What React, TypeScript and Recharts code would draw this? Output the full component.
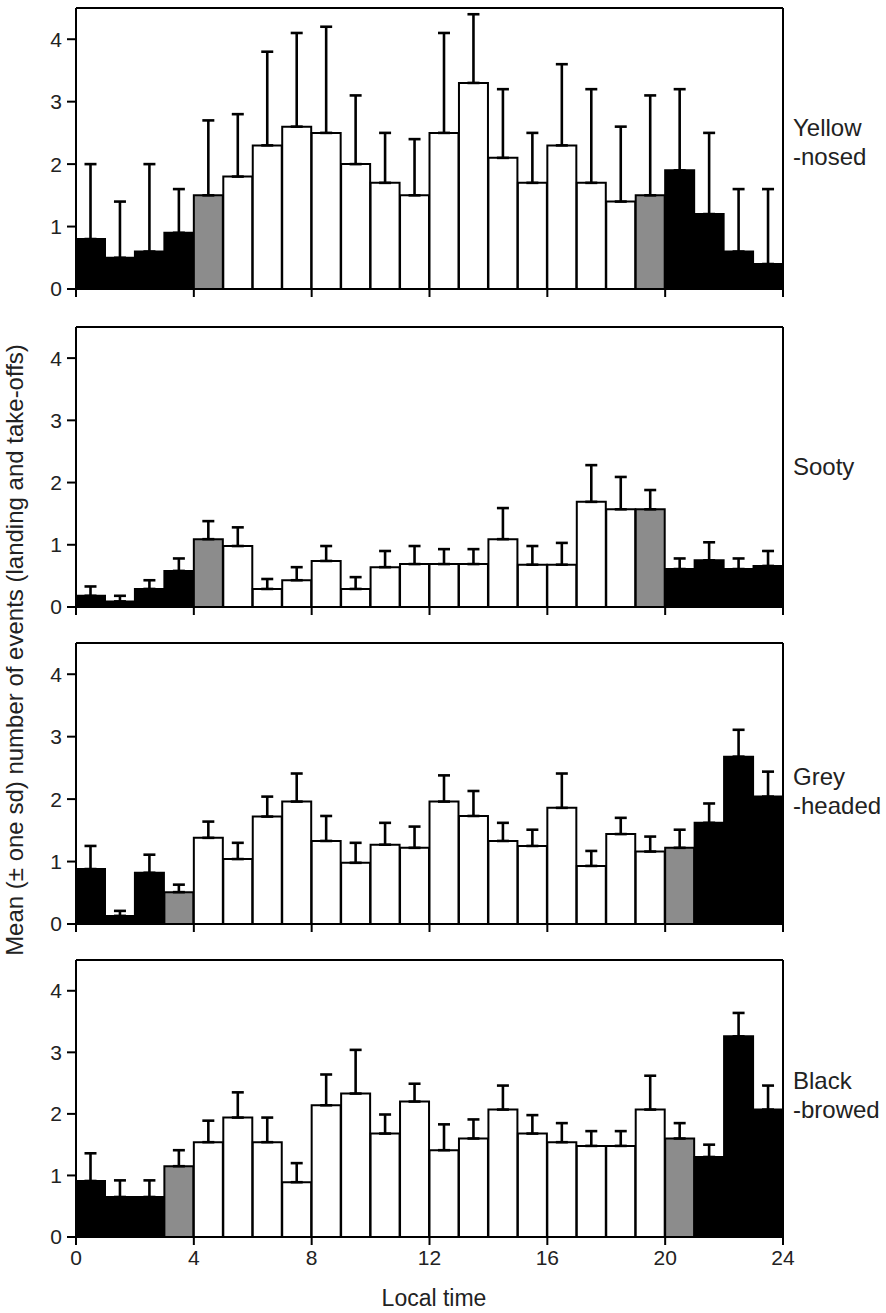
import React from 'react';
import { BarChart, Bar, XAxis, YAxis, ReferenceLine, ErrorBar, Cell } from 'recharts';

// hour of day (bar k covers k..k+1)
const hours = [0, 1, 2, 3, 4, 5, 6, 7, 8, 9, 10, 11, 12, 13, 14, 15, 16, 17, 18, 19, 20, 21, 22, 23];
const xTicks = [0, 4, 8, 12, 16, 20, 24];
const yTicks = [0, 1, 2, 3, 4];

// n = night, t = twilight, d = day
const phaseA = ['n', 'n', 'n', 'n', 't', 'd', 'd', 'd', 'd', 'd', 'd', 'd', 'd', 'd', 'd', 'd', 'd', 'd', 'd', 't', 'n', 'n', 'n', 'n'];
const phaseB = ['n', 'n', 'n', 't', 'd', 'd', 'd', 'd', 'd', 'd', 'd', 'd', 'd', 'd', 'd', 'd', 'd', 'd', 'd', 'd', 't', 'n', 'n', 'n'];

const yellowMean = [0.8, 0.5, 0.6, 0.9, 1.5, 1.8, 2.3, 2.6, 2.5, 2.0, 1.7, 1.5, 2.5, 3.3, 2.1, 1.7, 2.3, 1.7, 1.4, 1.5, 1.9, 1.2, 0.6, 0.4];
const yellowSd = [1.2, 0.9, 1.4, 0.7, 1.2, 1.0, 1.5, 1.5, 1.7, 1.1, 0.8, 0.9, 1.6, 1.1, 1.1, 0.8, 1.3, 1.5, 1.2, 1.6, 1.3, 1.3, 1.0, 1.2];

const sootyMean = [0.18, 0.09, 0.29, 0.58, 1.09, 0.98, 0.29, 0.43, 0.74, 0.29, 0.64, 0.69, 0.69, 0.69, 1.09, 0.68, 0.68, 1.69, 1.57, 1.57, 0.61, 0.75, 0.61, 0.66];
const sootySd = [0.15, 0.09, 0.14, 0.2, 0.29, 0.3, 0.16, 0.21, 0.24, 0.19, 0.26, 0.29, 0.24, 0.24, 0.5, 0.3, 0.35, 0.59, 0.52, 0.31, 0.17, 0.29, 0.17, 0.24];

const greyMean = [0.88, 0.13, 0.82, 0.51, 1.38, 1.04, 1.72, 1.96, 1.33, 0.98, 1.27, 1.22, 1.96, 1.73, 1.33, 1.25, 1.86, 0.93, 1.44, 1.16, 1.22, 1.62, 2.68, 2.04];
const greySd = [0.37, 0.08, 0.29, 0.12, 0.26, 0.26, 0.32, 0.45, 0.4, 0.32, 0.35, 0.34, 0.42, 0.4, 0.29, 0.26, 0.55, 0.24, 0.26, 0.24, 0.29, 0.31, 0.43, 0.4];

const blackMean = [0.91, 0.65, 0.65, 1.15, 1.54, 1.94, 1.54, 0.89, 2.14, 2.33, 1.68, 2.2, 1.41, 1.6, 2.07, 1.68, 1.54, 1.48, 1.48, 2.07, 1.6, 1.3, 3.26, 2.07];
const blackSd = [0.45, 0.27, 0.27, 0.26, 0.35, 0.41, 0.4, 0.31, 0.5, 0.71, 0.31, 0.29, 0.42, 0.31, 0.39, 0.3, 0.31, 0.24, 0.24, 0.55, 0.25, 0.2, 0.38, 0.39];

const FONT = '"Liberation Sans", Arial, sans-serif';
const phaseFill: Record<string, string> = { n: '#000', t: '#8c8c8c', d: '#fff' };

interface PanelProps {
  mean: number[];
  sd: number[];
  phase: string[];
  plotTop: number;
  zero: number;
  showX?: boolean;
}

const Panel = ({ mean, sd, phase, plotTop, zero, showX }: PanelProps) => {
  const rows = hours.map((h, i) => ({ x: h + 0.5, mean: mean[i], err: [0, sd[i]] }));
  const axisH = showX ? 40 : 24;
  const height = 4 + (zero - plotTop) + axisH;
  return (
    <div style={{ position: 'absolute', left: 0, top: plotTop - 4 }}>
      <BarChart
        width={886}
        height={height}
        data={rows}
        margin={{ top: 4, right: 103, left: 0, bottom: 0 }}
        barCategoryGap={0}
        barGap={0}
      >
        <XAxis
          type="number"
          dataKey="x"
          domain={[0, 24]}
          ticks={xTicks}
          interval={0}
          height={axisH}
          tickSize={8}
          tickMargin={5}
          tick={{ fontSize: 21, fill: '#222', fontFamily: FONT }}
          tickFormatter={showX ? undefined : () => ''}
          axisLine={{ stroke: '#000', strokeWidth: 2 }}
          tickLine={{ stroke: '#000', strokeWidth: 2 }}
        />
        <YAxis
          type="number"
          domain={[0, 4.5]}
          ticks={yTicks}
          interval={0}
          width={76}
          tickSize={9}
          tickMargin={5}
          tick={{ fontSize: 21, fill: '#222', fontFamily: FONT }}
          axisLine={{ stroke: '#000', strokeWidth: 2 }}
          tickLine={{ stroke: '#000', strokeWidth: 2 }}
        />
        <ReferenceLine y={4.5} stroke="#000" strokeWidth={2} />
        <ReferenceLine x={24} stroke="#000" strokeWidth={2} />
        <Bar dataKey="mean" stroke="#000" strokeWidth={2} isAnimationActive={false}>
          {rows.map((r, i) => (
            <Cell key={i} fill={phaseFill[phase[i]]} />
          ))}
          <ErrorBar dataKey="err" direction="y" width={6} stroke="#000" strokeWidth={2.6} isAnimationActive={false} />
        </Bar>
      </BarChart>
    </div>
  );
};

const sideLabel: React.CSSProperties = {
  position: 'absolute',
  left: 793,
  fontFamily: FONT,
  fontSize: 24,
  lineHeight: '29px',
  color: '#222',
  whiteSpace: 'nowrap',
};

export default function App() {
  return (
    <div style={{ position: 'absolute', left: 0, top: 0, width: 886, height: 1313, background: '#fff' }}>
      <Panel mean={yellowMean} sd={yellowSd} phase={phaseA} plotTop={8} zero={289} />
      <Panel mean={sootyMean} sd={sootySd} phase={phaseA} plotTop={327} zero={607} />
      <Panel mean={greyMean} sd={greySd} phase={phaseB} plotTop={643} zero={924} />
      <Panel mean={blackMean} sd={blackSd} phase={phaseB} plotTop={960} zero={1237} showX />

      <div style={{ ...sideLabel, top: 113 }}>Yellow<br />-nosed</div>
      <div style={{ ...sideLabel, top: 452 }}>Sooty</div>
      <div style={{ ...sideLabel, top: 762 }}>Grey<br />-headed</div>
      <div style={{ ...sideLabel, top: 1066 }}>Black<br />-browed</div>

      <div
        style={{
          position: 'absolute',
          left: 15,
          top: 650,
          transform: 'translate(-50%, -50%) rotate(-90deg)',
          fontFamily: FONT,
          fontSize: 24,
          color: '#222',
          whiteSpace: 'nowrap',
        }}
      >
        Mean (± one sd) number of events (landing and take-offs)
      </div>
      <div
        style={{
          position: 'absolute',
          left: 434,
          top: 1298,
          transform: 'translate(-50%, -50%)',
          fontFamily: FONT,
          fontSize: 23,
          color: '#222',
          whiteSpace: 'nowrap',
        }}
      >
        Local time
      </div>
    </div>
  );
}
